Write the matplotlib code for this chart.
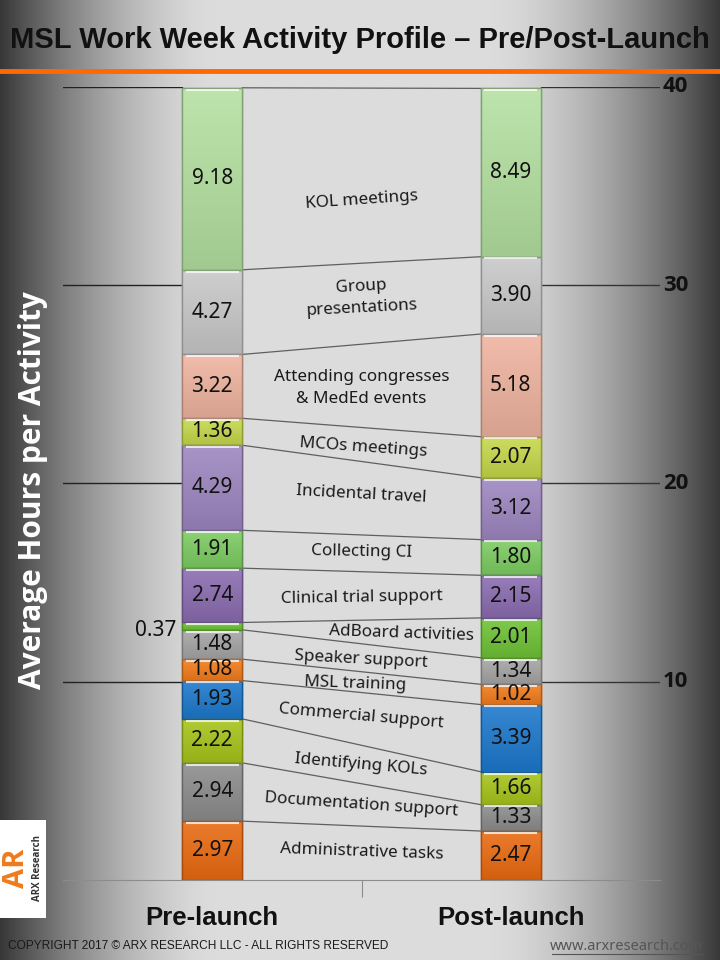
import numpy as np
import matplotlib.pyplot as plt
import matplotlib.colors as mcolors
from matplotlib.lines import Line2D
from matplotlib.patches import Rectangle

# data, bottom of the stack first
activities = ["Administrative tasks", "Documentation support", "Identifying KOLs",
              "Commercial support", "MSL training", "Speaker support",
              "AdBoard activities", "Clinical trial support", "Collecting CI",
              "Incidental travel", "MCOs meetings",
              "Attending congresses\n& MedEd events", "Group\npresentations",
              "KOL meetings"]
pre = [2.97, 2.94, 2.22, 1.93, 1.08, 1.48, 0.37, 2.74, 1.91, 4.29, 1.36, 3.22, 4.27, 9.18]
post = [2.47, 1.33, 1.66, 3.39, 1.02, 1.34, 2.01, 2.15, 1.80, 3.12, 2.07, 5.18, 3.90, 8.49]
colors = ["#e96a10", "#8c8c8c", "#a6c41a", "#1c78cc", "#f27b1a", "#a5a5a5",
          "#6ec235", "#8a6cb0", "#7dcc62", "#9d86c0", "#c5d84a", "#efb39f",
          "#c8c8c8", "#b3e0a0"]
groups = ["Pre-launch", "Post-launch"]
ticks = [10, 20, 30, 40]

# hand placed activity labels (x, y, rotation)
label_pos = [(0.5, 1.41, -2), (0.5, 3.78, -4), (0.5, 5.8, -5), (0.5, 8.27, -5),
             (0.48, 9.89, -2), (0.5, 11.1, -3), (0.634, 12.41, -2), (0.5, 14.22, 1),
             (0.5, 16.54, -1), (0.5, 19.47, -3), (0.505, 21.84, -4), (0.5, 24.82, 0),
             (0.5, 29.41, 3), (0.5, 34.29, 4)]

arial = ["Liberation Sans", "DejaVu Sans"]
sans = ["Noto Sans", "DejaVu Sans"]
bold_sans = ["Open Sans", "DejaVu Sans"]

fig = plt.figure(figsize=(7.2, 9.6), dpi=100)

# grey background, light in the middle, dark at the sides
bg = fig.add_axes([0, 0, 1, 1])
xs = np.arange(720)
t = np.minimum(np.clip(xs / 215.0, 0, 1), np.clip((720 - xs) / 230.0, 0, 1))
v = (220 - 165 * (1 - t) ** 1.6) / 255.0
img = np.tile(v, (10, 1))
bg.imshow(np.dstack([img, img, img]), extent=[0, 1, 0, 1], aspect="auto")
bg.axis("off")

ax = fig.add_axes([63 / 720, 80 / 960, 597 / 720, 793 / 960])
ax.patch.set_alpha(0)

w = 0.2
pre_bot = np.concatenate([[0], np.cumsum(pre)[:-1]])
post_bot = np.concatenate([[0], np.cumsum(post)[:-1]])

for i in range(len(activities)):
    rgb = np.array(mcolors.to_rgb(colors[i]))
    edge = rgb * 0.72
    top_c = rgb + (1 - rgb) * 0.12
    bot_c = rgb * 0.9
    grad = np.linspace(0, 1, 32)[:, None, None]
    shade = top_c * (1 - grad) + bot_c * grad
    for x, vals, bots in [(0, pre, pre_bot), (1, post, post_bot)]:
        bars = ax.bar(x, vals[i], w, bottom=bots[i], color=colors[i], edgecolor=edge,
                      linewidth=1, zorder=3)
        r = bars[0]
        x0, y0 = r.get_x(), r.get_y()
        ax.imshow(shade, extent=[x0, x0 + r.get_width(), y0, y0 + r.get_height()],
                  aspect="auto", interpolation="bilinear", zorder=3.2)
        ax.add_patch(Rectangle((x0, y0), r.get_width(), r.get_height(), fill=False,
                               edgecolor=edge, linewidth=1, zorder=3.4))
        top = bots[i] + vals[i]
        ax.plot([x - w / 2 + 0.012, x + w / 2 - 0.012], [top - 0.09, top - 0.09],
                color="white", alpha=0.75, lw=1.5, zorder=4, solid_capstyle="butt")
        mid = bots[i] + vals[i] / 2
        if vals[i] < 0.5:
            ax.text(x - 0.19, mid - 0.2, f"{vals[i]:.2f}", ha="center", va="center",
                    fontsize=15, family=sans, color="#111111", zorder=5)
        else:
            ax.text(x, mid, f"{vals[i]:.2f}", ha="center", va="center",
                    fontsize=15, family=sans, color="#111111", zorder=5)
    # series line between the bars
    ax.plot([w / 2, 1 - w / 2], [pre_bot[i] + pre[i], post_bot[i] + post[i]],
            color="#5f5f5f", lw=0.9, zorder=2)
    lx, ly, rot = label_pos[i]
    ax.text(lx, ly, activities[i], ha="center", va="center", rotation=rot,
            rotation_mode="anchor", fontsize=12.3, family=sans, color="#1a1a1a",
            linespacing=1.45, zorder=5)

ax.set_xlim(-0.5, 1.5)
ax.set_ylim(0, 40)

for tk in ticks:
    ax.plot([-0.5, -w / 2], [tk, tk], color="#222222", lw=1, zorder=1)
    ax.plot([1 + w / 2, 1.5], [tk, tk], color="#333333", lw=1, zorder=1)
    ax.text(1.51, tk, str(tk), ha="left", va="center", fontsize=16,
            fontweight="bold", family=bold_sans, color="#111111", clip_on=False)

for s in ["top", "left", "right"]:
    ax.spines[s].set_visible(False)
ax.spines["bottom"].set_color("#8c8c8c")
ax.set_yticks([])
ax.set_xticks([0.5])
ax.set_xticklabels([])
ax.tick_params(axis="x", length=12, color="#8c8c8c")

for i, g in enumerate(groups):
    ax.text(i, -1.92, g, ha="center", va="center", fontsize=18.5, fontweight="bold",
            family=arial, color="#111111", clip_on=False)

# title and orange rule
fig.text(0.5, 1 - 40 / 960, "MSL Work Week Activity Profile – Pre/Post-Launch",
         ha="center", va="center", fontsize=21, fontweight="bold", family=arial,
         color="#111111")
fig.add_artist(Line2D([0, 1], [1 - 71 / 960, 1 - 71 / 960], transform=fig.transFigure,
                      color="#ff6a00", lw=3.5))

fig.text(33 / 720, 1 - 490 / 960, "Average Hours per Activity", rotation=90,
         ha="center", va="center", fontsize=21.5, fontweight="bold", family=bold_sans,
         color="white")

# footer
fig.text(8 / 720, 1 - 946 / 960, "COPYRIGHT 2017 © ARX RESEARCH LLC - ALL RIGHTS RESERVED",
         ha="left", va="center", fontsize=8.6, family=arial, color="#1a1a1a")
fig.text(703 / 720, 1 - 946 / 960, "www.arxresearch.com", ha="right", va="center",
         fontsize=10.5, family=sans, color="#555555")
fig.add_artist(Line2D([552 / 720, 703 / 720], [1 - 954 / 960, 1 - 954 / 960],
                      transform=fig.transFigure, color="#555555", lw=0.8))

# logo
fig.add_artist(Rectangle((0, 1 - 918 / 960), 46 / 720, 98 / 960, transform=fig.transFigure,
                         facecolor="white", edgecolor="none"))
fig.text(17 / 720, 1 - 868 / 960, "AR", rotation=90, ha="center", va="center",
         fontsize=21, fontweight="bold", color="#f07a1a", family=bold_sans)
fig.text(38 / 720, 1 - 868 / 960, "ARX Research", rotation=90, ha="center", va="center",
         fontsize=7, fontweight="bold", color="#333333", family=bold_sans)

fig.savefig("out.png", dpi=100)
